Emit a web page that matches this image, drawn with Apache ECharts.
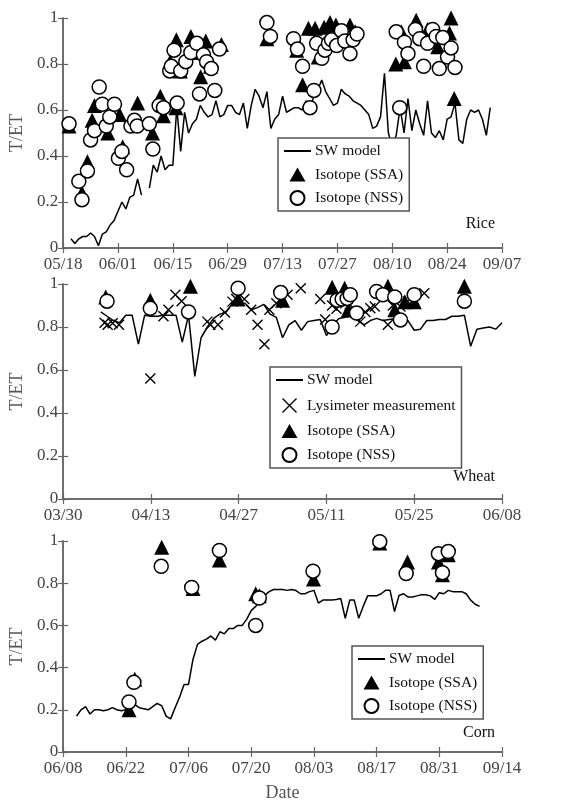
<!DOCTYPE html>
<html>
<head>
<meta charset="utf-8">
<script src="https://cdn.jsdelivr.net/npm/echarts@6/dist/echarts.min.js"></script>
<style>
  html, body { margin: 0; padding: 0; background: #fff; }
  #chart { width: 584px; height: 806px; }
</style>
</head>
<body>
<div id="chart"></div>
<script>
// tick labels (one every 14 days)
const riceTicks = ['05/18', '06/01', '06/15', '06/29', '07/13', '07/27', '08/10', '08/24', '09/07'];
const wheatTicks = ['03/30', '04/13', '04/27', '05/11', '05/25', '06/08'];
const cornTicks = ['06/08', '06/22', '07/06', '07/20', '08/03', '08/17', '08/31', '09/14'];

// x values are days after the first tick of each panel
// Rice
const riceSwStart = 2;
const riceSw = [0.04, 0.02, 0.04, 0.05, 0.05, 0.065, 0.05, 0.01, 0.06, 0.07, 0.10, 0.12, 0.16, 0.20, 0.17, 0.22, 0.23, 0.30, 0.23, null,
  0.26, 0.36, 0.33, 0.40, 0.34, 0.36, 0.36, 0.61, 0.42, 0.59, 0.50, 0.54, 0.56, 0.62, 0.59, 0.57, 0.58, 0.64, 0.57, 0.58,
  0.62, 0.62, 0.59, 0.58, 0.63, 0.52, 0.62, 0.69, 0.66, 0.61, 0.68, 0.52, 0.56, 0.58, 0.66, 0.59, 0.60, 0.61, 0.61, 0.60,
  0.64, 0.61, 0.66, 0.69, 0.73, 0.68, 0.65, 0.62, 0.63, 0.69, 0.67, 0.66, 0.64, 0.63, 0.62, 0.60, 0.58, 0.52, 0.53, 0.57,
  0.76, 0.50, 0.44, 0.49, 0.61, 0.50, 0.65, 0.51, 0.60, 0.54, 0.49, 0.64, 0.50, 0.48, 0.51, 0.47, 0.56, 0.57, 0.63, 0.47,
  0.455, 0.56, 0.60, 0.59, 0.60, 0.56, 0.49, 0.61];
const riceSsaDays = [1.5, 4.8, 6.2, 7.4, 8, 11.4, 14.4, 15.2, 19, 22.8, 24.8, 25.6, 28.8, 27.3, 28.9, 29.9, 32.6, 33.8, 35.1, 36.4,
  37.6, 40.4, 52, 59.6, 61.1, 62.6, 64.3, 65.1, 66.6, 68.1, 69.6, 71.1, 73.2, 74.5, 84.9, 86.3, 87.1, 90.1, 93, 95.6,
  98.6, 99, 99.8];
const riceSsa = [0.53, 0.24, 0.375, 0.555, 0.62, 0.50, 0.58, 0.44, 0.63, 0.50, 0.66, 0.575, 0.61, 0.81, 0.905, 0.77, 0.92, 0.85, 0.745, 0.90,
  0.79, 0.885, 0.91, 0.86, 0.71, 0.955, 0.955, 0.83, 0.96, 0.98, 0.97, 0.935, 0.97, 0.94, 0.80, 0.94, 0.81, 0.99, 0.95, 0.875,
  0.935, 1.0, 0.65];
const riceNssDays = [1.5, 4.0, 4.8, 6.2, 7, 8, 9.2, 10, 11, 11.9, 13.1, 14.1, 15, 16.2, 17.3, 18.2, 18.9, 22, 22.9, 24.5,
  25.6, 27.2, 27.6, 28.3, 29.1, 30, 31.3, 32.6, 34.1, 34.8, 35.8, 36.6, 37.8, 38.7, 39.9, 52, 52.9, 58.8, 59.8, 61.1,
  63, 64, 64.7, 66, 66.8, 67.7, 68.5, 69.8, 71, 71.9, 73.2, 74, 75, 85, 85.9, 87.1, 88, 89.9, 91, 92,
  93, 94.3, 95.2, 96, 96.9, 98.1, 99, 100];
const riceNss = [0.54, 0.29, 0.21, 0.335, 0.47, 0.51, 0.70, 0.625, 0.53, 0.57, 0.625, 0.39, 0.42, 0.34, 0.53, 0.555, 0.53, 0.54, 0.43, 0.62,
  0.61, 0.77, 0.79, 0.86, 0.63, 0.77, 0.81, 0.85, 0.89, 0.67, 0.84, 0.81, 0.78, 0.685, 0.865, 0.98, 0.92, 0.91, 0.865, 0.79,
  0.61, 0.685, 0.89, 0.825, 0.86, 0.89, 0.905, 0.88, 0.945, 0.90, 0.845, 0.905, 0.93, 0.94, 0.61, 0.895, 0.845, 0.95, 0.91, 0.79,
  0.89, 0.95, 0.92, 0.78, 0.915, 0.83, 0.87, 0.785];

// Wheat
const wheatSwStart = 6;
const wheatSw = [0.87, 0.85, 0.83, 0.82, 0.855, 0.855, 0.72, 0.855, 0.85, 0.85, 0.855, 0.855, 0.855, 0.73, 0.855, 0.57, 0.75, 0.80, 0.84, 0.86,
  0.87, 0.91, 0.92, 0.91, 0.88, 0.89, 0.905, 0.86, 0.845, 0.75, 0.81, 0.83, 0.785, 0.825, 0.83, 0.835, 0.76, 0.81, 0.84, 0.845,
  0.85, 0.83, 0.81, 0.83, 0.84, 0.83, 0.835, 0.84, 0.83, 0.83, 0.785, 0.79, 0.83, 0.83, 0.835, 0.835, 0.85, 0.85, 0.855, 0.71,
  0.79, 0.795, 0.80, 0.79, 0.82];
const wheatLysDays = [6.6, 7.1, 7.9, 8.9, 13.9, 16, 16.8, 17.9, 18.9, 23, 23.5, 24.7, 25.8, 27, 27.6, 28.9, 30, 31, 32.1, 32.9,
  34, 35.8, 37.9, 41, 41.8, 42.9, 43.6, 45, 45.7, 47.4, 48.2, 49, 49.7, 51.8, 52.6, 53.8, 55, 57.6];
const wheatLys = [0.82, 0.81, 0.817, 0.81, 0.56, 0.85, 0.88, 0.95, 0.92, 0.825, 0.81, 0.81, 0.867, 0.918, 0.93, 0.93, 0.88, 0.81, 0.72, 0.88,
  0.91, 0.95, 0.98, 0.93, 0.835, 0.90, 0.885, 0.91, 0.905, 0.825, 0.87, 0.887, 0.895, 0.81, 0.90, 0.895, 0.918, 0.957];
const wheatSsaDays = [6.8, 13.9, 20.3, 27.9, 35, 42.9, 44.9, 45.5, 51.8, 52.9, 54.5, 56, 64];
const wheatSsa = [0.94, 0.925, 0.99, 0.93, 0.925, 0.985, 0.98, 0.88, 0.99, 0.88, 0.918, 0.918, 0.99];
const wheatNssDays = [7, 13.9, 20, 27.9, 34.7, 42.9, 43.7, 44.5, 45.3, 45.8, 46.8, 50, 51, 52.9, 53.8, 56, 64];
const wheatNss = [0.92, 0.887, 0.87, 0.98, 0.96, 0.80, 0.925, 0.93, 0.933, 0.95, 0.865, 0.965, 0.95, 0.94, 0.833, 0.95, 0.92];

// Corn
const cornSwStart = 3;
const cornSw = [0.17, 0.20, 0.215, 0.18, 0.20, 0.20, 0.195, 0.20, 0.21, 0.20, 0.195, 0.20, 0.215, 0.225, 0.21, 0.205, 0.20, 0.215, 0.23, 0.22,
  0.17, 0.157, 0.21, 0.26, 0.32, 0.32, 0.44, 0.51, 0.525, 0.535, 0.55, 0.53, 0.57, 0.56, 0.585, 0.585, 0.60, 0.60, 0.63, 0.67,
  0.69, 0.715, 0.742, 0.76, 0.77, 0.77, 0.77, 0.766, 0.77, 0.765, 0.75, 0.75, 0.76, 0.766, 0.706, 0.72, 0.72, 0.72, 0.723, 0.727,
  0.634, 0.72, 0.72, 0.634, 0.69, 0.74, 0.74, 0.74, 0.75, 0.766, 0.766, 0.666, 0.742, 0.75, 0.735, 0.735, 0.74, 0.745, 0.745, 0.74,
  0.723, 0.755, 0.75, 0.766, 0.76, 0.76, 0.76, 0.75, 0.72, 0.70, 0.69];
const cornSsaDays = [14.7, 16, 22, 29, 34.9, 43, 43.8, 55.9, 70.7, 76.9, 83.8, 84.7, 86];
const cornSsa = [0.20, 0.345, 0.97, 0.775, 0.91, 0.75, 0.74, 0.82, 0.99, 0.90, 0.90, 0.84, 0.935];
const cornNssDays = [14.7, 15.8, 21.9, 28.7, 34.9, 43, 43.8, 55.8, 70.7, 76.6, 83.8, 84.7, 86];
const cornNss = [0.237, 0.33, 0.88, 0.78, 0.955, 0.60, 0.73, 0.857, 0.997, 0.846, 0.94, 0.85, 0.95];

const serif = "'Liberation Serif', 'Times New Roman', serif";
const grids = [
  { left: 58, right: 82, top: 18, height: 230 },
  { left: 58, right: 82, top: 284, height: 215 },
  { left: 58, right: 82, top: 541, height: 211 }
];
const ticks = [riceTicks, wheatTicks, cornTicks];

function pairs(xs, ys) { return ys.map((v, i) => [xs[i], v]); }
function daily(start, ys) { return ys.map((v, i) => [start + i, v]); }

let xAxes = [], yAxes = [];
ticks.forEach((t, i) => {
  const maxDay = (t.length - 1) * 14;
  const base = {
    type: 'value', gridIndex: i, min: 0, max: maxDay, interval: 14,
    axisLine: { lineStyle: { color: '#666', width: 1.5 } },
    axisTick: { inside: true, length: 5, lineStyle: { color: '#666', width: 1.2 } },
    splitLine: { show: false }
  };
  xAxes.push(Object.assign({}, base, {
    position: 'bottom',
    axisLabel: { color: '#444', fontFamily: serif, fontSize: 17, margin: 8,
      showMinLabel: true, showMaxLabel: true,
      formatter: v => t[Math.round(v / 14)] },
    name: i === 2 ? 'Date' : '', nameLocation: 'middle', nameGap: 32,
    nameTextStyle: { color: '#555', fontFamily: serif, fontSize: 18 }
  }));
  xAxes.push(Object.assign({}, base, { position: 'top', axisLabel: { show: false } }));
  const ybase = {
    type: 'value', gridIndex: i, min: 0, max: 1, interval: 0.2,
    axisLine: { show: true, lineStyle: { color: '#666', width: 1.5 } },
    axisTick: { show: true, inside: true, length: 5, lineStyle: { color: '#666', width: 1.2 } },
    splitLine: { show: false }
  };
  yAxes.push(Object.assign({}, ybase, {
    position: 'left',
    axisLabel: { color: '#444', fontFamily: serif, fontSize: 17, margin: 5 },
    name: 'T/ET', nameLocation: 'middle', nameGap: 35,
    nameTextStyle: { color: '#555', fontFamily: serif, fontSize: 18 }
  }));
  yAxes.push(Object.assign({}, ybase, { position: 'right', axisLabel: { show: false } }));
});

const lineStyle = { color: '#000', width: 1.5 };
const triStyle = { color: '#000', opacity: 1 };
const circStyle = { color: '#fff', borderColor: '#000', borderWidth: 1.5, opacity: 1 };
const crossStyle = { color: 'none', borderColor: '#000', borderWidth: 1.4, opacity: 1 };
const crossPath = 'path://M0,0L10,10M10,0L0,10';
// legend triangle padded to the 27x14 legend box so it is not stretched
const legendTri = 'path://M0,0L0.01,0L0,0.01ZM27,14L26.99,14L27,13.99ZM5.5,14L13.5,0L21.5,14Z';

function sw(i, start, ys) {
  return { name: 'SW model', type: 'line', xAxisIndex: i * 2, yAxisIndex: i * 2,
    data: daily(start, ys), symbol: 'none', connectNulls: false, lineStyle: lineStyle,
    itemStyle: { color: '#000' }, z: 2 };
}
function ssa(i, xs, ys) {
  return { name: 'Isotope (SSA)', type: 'scatter', xAxisIndex: i * 2, yAxisIndex: i * 2,
    data: pairs(xs, ys), symbol: 'triangle', symbolSize: 15,
    itemStyle: triStyle, z: 3 };
}
function nss(i, xs, ys) {
  return { name: 'Isotope (NSS)', type: 'scatter', xAxisIndex: i * 2, yAxisIndex: i * 2,
    data: pairs(xs, ys), symbol: 'circle', symbolSize: 14,
    itemStyle: circStyle, z: 4 };
}

const series = [
  sw(0, riceSwStart, riceSw), ssa(0, riceSsaDays, riceSsa), nss(0, riceNssDays, riceNss),
  sw(1, wheatSwStart, wheatSw),
  { name: 'Lysimeter measurement', type: 'scatter', xAxisIndex: 2, yAxisIndex: 2,
    data: pairs(wheatLysDays, wheatLys), symbol: crossPath, symbolSize: 10, symbolKeepAspect: true,
    itemStyle: crossStyle, z: 3 },
  ssa(1, wheatSsaDays, wheatSsa), nss(1, wheatNssDays, wheatNss),
  sw(2, cornSwStart, cornSw), ssa(2, cornSsaDays, cornSsa), nss(2, cornNssDays, cornNss)
];

function legendAt(left, top, names, gap) {
  return {
    left: left, top: top, orient: 'vertical', selectedMode: false,
    backgroundColor: '#fff', borderColor: '#555', borderWidth: 1.5,
    padding: [5, 6, 5, 5], itemGap: gap, itemWidth: 27, itemHeight: 14,
    textStyle: { fontFamily: serif, fontSize: 15.5, color: '#111', padding: [0, 0, 0, -1] },
    data: names.map(n => {
      if (n === 'SW model') return { name: n, itemStyle: { opacity: 0 } };
      if (n === 'Isotope (SSA)') return { name: n, icon: legendTri };
      if (n === 'Isotope (NSS)') return { name: n, icon: 'circle' };
      return { name: n, icon: crossPath, itemStyle: { color: 'none', borderColor: '#000', borderWidth: 1.4 } };
    }),
    z: 10
  };
}

const option = {
  animation: false,
  backgroundColor: '#fff',
  grid: grids,
  xAxis: xAxes,
  yAxis: yAxes,
  legend: [
    legendAt(278, 138, ['SW model', 'Isotope (SSA)', 'Isotope (NSS)'], 7.5),
    legendAt(270, 367, ['SW model', 'Lysimeter measurement', 'Isotope (SSA)', 'Isotope (NSS)'], 8),
    legendAt(352, 646, ['SW model', 'Isotope (SSA)', 'Isotope (NSS)'], 7.5)
  ],
  graphic: [
    { type: 'text', right: 89, top: 216, style: { text: 'Rice', font: '16px ' + serif, fill: '#111' } },
    { type: 'text', right: 89, top: 469, style: { text: 'Wheat', font: '16px ' + serif, fill: '#111' } },
    { type: 'text', right: 89, top: 725, style: { text: 'Corn', font: '16px ' + serif, fill: '#111' } }
  ],
  series: series
};

const chart = echarts.init(document.getElementById('chart'), null, { renderer: 'canvas' });
chart.setOption(option);
</script>
</body>
</html>
